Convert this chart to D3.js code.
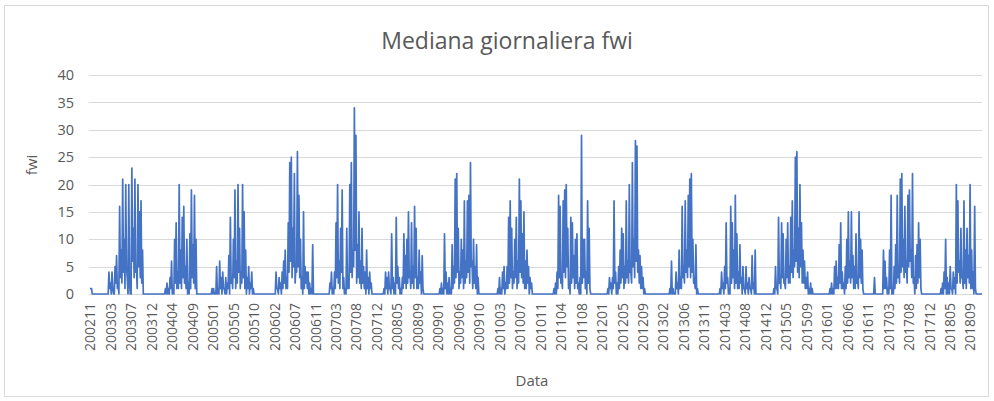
<!DOCTYPE html>
<html>
<head>
<meta charset="utf-8">
<script src="https://d3js.org/d3.v7.min.js"></script>
<style>
  body { margin: 0; background: #fff; }
  text { font-family: "Open Sans", sans-serif; fill: #595959; }
</style>
</head>
<body>
<svg id="chart"></svg>
<script>
const width = 994;
const height = 401;

// asse categorie: un punto ogni giorno, etichetta ogni 134 giorni
const nDays = 5840;
const labelStep = 134;
// per ogni blocco di 10 giorni: massimo (all'inizio) e minimo (a metà)
const sampleStep = 10;

const xLabels = ['200211', '200303', '200307', '200312', '200404', '200409', '200501', '200505',
  '200510', '200602', '200607', '200611', '200703', '200708', '200712', '200805', '200809',
  '200901', '200906', '200910', '201003', '201007', '201011', '201104', '201108', '201201',
  '201205', '201209', '201302', '201306', '201311', '201403', '201408', '201412', '201505',
  '201509', '201601', '201606', '201611', '201703', '201708', '201712', '201805', '201809'];
const yTicks = [0, 5, 10, 15, 20, 25, 30, 35, 40];

// giorno di inizio di ogni stagione
const seasonStarts = [0, 114, 484, 789, 1208, 1561, 1915, 2281, 2661, 3028, 3381, 3787, 4115, 4468, 4835, 5126, 5185, 5562];

// massimi
const fwi2002 = [1, 1, 0];
const fwi2003 = [0, 4, 2, 4, 0, 5, 7, 2, 16, 8, 21, 10, 20, 3, 20, 0, 23, 12, 21, 5, 20, 15, 17, 8, 0];
const fwi2004 = [0, 1, 2, 1, 3, 6, 1, 10, 13, 4, 20, 8, 14, 16, 5, 10, 2, 11, 19, 9, 18, 10, 0];
const fwi2005 = [0, 1, 1, 0, 5, 1, 6, 3, 4, 1, 3, 2, 7, 14, 3, 10, 19, 6, 20, 12, 4, 20, 15, 8, 3, 5, 2, 4, 1, 0];
const fwi2006 = [0, 4, 1, 3, 2, 4, 6, 8, 3, 13, 24, 25, 12, 22, 5, 26, 18, 10, 3, 15, 5, 4, 4, 2, 1, 9, 0];
const fwi2007 = [0, 2, 4, 1, 4, 13, 20, 6, 12, 19, 3, 1, 12, 3, 20, 24, 8, 34, 29, 9, 15, 6, 12, 5, 4, 8, 3, 4, 2, 0];
const fwi2008 = [0, 1, 4, 3, 4, 1, 11, 3, 2, 14, 5, 3, 1, 3, 11, 7, 10, 15, 4, 13, 5, 16, 12, 3, 8, 4, 7, 0];
const fwi2009 = [0, 1, 2, 1, 11, 4, 2, 3, 1, 9, 5, 21, 22, 12, 4, 10, 8, 17, 6, 17, 18, 24, 6, 10, 5, 9, 3, 0];
const fwi2010 = [0, 1, 3, 1, 4, 5, 2, 5, 14, 17, 12, 4, 10, 14, 6, 21, 17, 11, 15, 6, 8, 5, 3, 2, 0];
const fwi2011 = [0, 1, 2, 4, 18, 16, 3, 17, 19, 20, 12, 2, 14, 13, 7, 10, 11, 2, 3, 29, 10, 10, 4, 17, 12, 0];
const fwi2012 = [0, 1, 3, 2, 3, 17, 4, 2, 5, 8, 12, 11, 5, 17, 6, 20, 4, 24, 10, 28, 27, 8, 7, 5, 3, 1, 0];
const fwi2013 = [0, 1, 6, 1, 0, 4, 2, 8, 3, 16, 5, 17, 8, 18, 21, 22, 10, 3, 9, 1, 0];
const fwi2014 = [0, 1, 4, 2, 5, 13, 3, 1, 16, 13, 8, 18, 11, 4, 9, 3, 5, 1, 5, 2, 3, 1, 7, 2, 8, 0];
const fwi2015 = [0, 1, 5, 1, 14, 3, 13, 11, 2, 10, 13, 5, 14, 17, 8, 25, 26, 12, 20, 13, 8, 6, 3, 4, 1, 2, 1, 0];
const fwi2016 = [0, 1, 2, 1, 5, 6, 3, 9, 13, 4, 2, 5, 10, 15, 6, 15, 7, 5, 11, 3, 15, 10, 8, 0];
const fwi2016b = [0, 3, 0];
const fwi2017 = [0, 8, 6, 3, 1, 8, 18, 1, 5, 9, 18, 5, 21, 22, 10, 16, 6, 18, 19, 8, 22, 3, 7, 9, 13, 10, 0];
const fwi2018 = [0, 1, 2, 4, 10, 3, 2, 5, 1, 4, 3, 20, 17, 6, 12, 3, 17, 8, 12, 7, 20, 8, 4, 16, 0];

// minimi
const min2002 = [1, 0, 0];
const min2003 = [0, 1, 0, 1, 0, 2, 1, 0, 3, 2, 4, 1, 5, 0, 2, 0, 6, 3, 4, 1, 5, 3, 2, 0, 0];
const min2004 = [0, 0, 0, 0, 1, 0, 0, 2, 1, 1, 2, 1, 3, 2, 1, 0, 0, 1, 3, 2, 1, 0, 0];
const min2005 = [0, 0, 0, 0, 0, 0, 1, 0, 1, 0, 0, 1, 0, 2, 1, 3, 1, 2, 4, 1, 2, 3, 1, 0, 1, 0, 1, 0, 0, 0];
const min2006 = [0, 1, 0, 1, 0, 1, 2, 1, 1, 4, 6, 3, 5, 2, 4, 5, 3, 1, 0, 1, 2, 1, 0, 0, 0, 0, 0];
const min2007 = [0, 1, 0, 0, 1, 3, 2, 1, 4, 1, 0, 0, 1, 1, 4, 3, 5, 8, 2, 3, 2, 1, 2, 1, 0, 1, 0, 1, 0, 0];
const min2008 = [0, 0, 1, 0, 1, 0, 1, 0, 0, 2, 1, 0, 0, 1, 2, 1, 2, 3, 1, 2, 1, 3, 1, 1, 2, 0, 1, 0];
const min2009 = [0, 0, 0, 0, 1, 0, 0, 0, 0, 1, 2, 3, 4, 1, 2, 3, 1, 2, 3, 4, 2, 5, 1, 2, 1, 0, 0, 0];
const min2010 = [0, 0, 0, 0, 1, 0, 1, 1, 2, 3, 1, 2, 3, 1, 2, 4, 3, 2, 1, 1, 2, 0, 1, 0, 0];
const min2011 = [0, 0, 0, 1, 3, 2, 1, 4, 3, 5, 1, 0, 2, 3, 1, 2, 1, 0, 0, 2, 3, 1, 0, 2, 1, 0];
const min2012 = [0, 0, 1, 0, 1, 2, 0, 0, 1, 2, 3, 1, 2, 3, 2, 4, 2, 5, 3, 6, 4, 2, 1, 1, 0, 0, 0];
const min2013 = [0, 0, 0, 0, 0, 1, 0, 1, 1, 3, 2, 4, 3, 5, 3, 4, 2, 1, 0, 0, 0];
const min2014 = [0, 0, 1, 0, 1, 2, 0, 0, 2, 3, 1, 2, 1, 1, 2, 0, 1, 0, 1, 0, 1, 0, 1, 0, 0, 0];
const min2015 = [0, 0, 1, 0, 2, 1, 3, 2, 1, 3, 2, 2, 4, 3, 5, 6, 4, 3, 5, 2, 2, 1, 1, 0, 0, 0, 0, 0];
const min2016 = [0, 0, 0, 0, 1, 1, 1, 2, 1, 1, 0, 1, 2, 3, 2, 3, 1, 1, 2, 1, 3, 2, 1, 0];
const min2016b = [0, 0, 0];
const min2017 = [0, 1, 1, 0, 0, 1, 0, 0, 1, 2, 3, 2, 4, 5, 3, 4, 2, 5, 6, 3, 2, 0, 1, 2, 3, 1, 0];
const min2018 = [0, 0, 0, 1, 0, 0, 0, 1, 0, 1, 0, 2, 4, 2, 3, 1, 2, 1, 3, 2, 1, 1, 0, 1, 0];

const seasons = [fwi2002, fwi2003, fwi2004, fwi2005, fwi2006, fwi2007, fwi2008, fwi2009, fwi2010,
  fwi2011, fwi2012, fwi2013, fwi2014, fwi2015, fwi2016, fwi2016b, fwi2017, fwi2018];
const seasonMins = [min2002, min2003, min2004, min2005, min2006, min2007, min2008, min2009, min2010,
  min2011, min2012, min2013, min2014, min2015, min2016, min2016b, min2017, min2018];

const points = [];
seasons.forEach((vals, s) => {
  vals.forEach((v, k) => {
    const day = seasonStarts[s] + k * sampleStep;
    points.push([day, v]);
    points.push([day + sampleStep / 2, seasonMins[s][k]]);
  });
});
points.push([nDays, 0]);

const svg = d3.select('#chart')
  .attr('width', width)
  .attr('height', height);

svg.append('rect')
  .attr('x', 4.5)
  .attr('y', 5.5)
  .attr('width', 984)
  .attr('height', 391)
  .attr('fill', '#fff')
  .attr('stroke', '#d9d9d9');

const x = d3.scaleLinear().domain([0, nDays]).range([90, 982]);
const y = d3.scaleLinear().domain([0, 40]).range([294, 75]);

// griglia
svg.append('g')
  .selectAll('line')
  .data(yTicks)
  .join('line')
  .attr('x1', 89)
  .attr('x2', 982)
  .attr('y1', d => Math.round(y(d)) + 0.5)
  .attr('y2', d => Math.round(y(d)) + 0.5)
  .attr('stroke', '#d9d9d9')
  .attr('stroke-width', 1);

const yAxis = svg.append('g')
  .attr('transform', 'translate(89,0)')
  .call(d3.axisLeft(y).tickValues(yTicks).tickSize(0).tickPadding(15));
yAxis.select('.domain').remove();
yAxis.selectAll('text')
  .style('font-family', '"Open Sans", sans-serif')
  .style('font-size', '14.5px')
  .attr('fill', '#595959');

const xAxis = svg.append('g')
  .attr('transform', 'translate(0,294)')
  .call(d3.axisBottom(x)
    .tickValues(xLabels.map((_, i) => i * labelStep))
    .tickFormat((d, i) => xLabels[i])
    .tickSize(0));
xAxis.select('.domain').remove();
xAxis.selectAll('text')
  .attr('transform', 'rotate(-90)')
  .attr('x', -9)
  .attr('y', 0)
  .attr('dy', '0.35em')
  .style('text-anchor', 'end')
  .style('font-family', '"Open Sans", sans-serif')
  .style('font-size', '14px')
  .attr('fill', '#595959');

const line = d3.line()
  .x(d => x(d[0]))
  .y(d => y(d[1]));

svg.append('path')
  .datum(points)
  .attr('d', line)
  .attr('fill', 'none')
  .attr('stroke', '#4472C4')
  .attr('stroke-width', 1.7)
  .attr('stroke-linejoin', 'round');

svg.append('text')
  .attr('x', 507)
  .attr('y', 49)
  .attr('text-anchor', 'middle')
  .style('font-size', '23px')
  .text('Mediana giornaliera fwi');

svg.append('text')
  .attr('transform', 'translate(37,165) rotate(-90)')
  .attr('text-anchor', 'middle')
  .style('font-size', '15px')
  .text('fwi');

svg.append('text')
  .attr('x', 532)
  .attr('y', 386)
  .attr('text-anchor', 'middle')
  .style('font-size', '15px')
  .text('Data');
</script>
</body>
</html>
